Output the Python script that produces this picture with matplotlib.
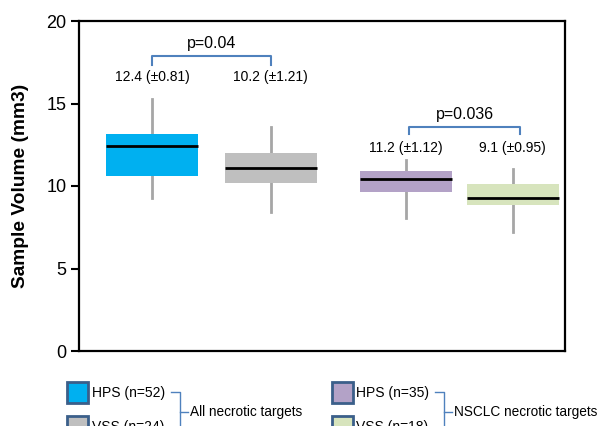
import matplotlib
matplotlib.use("Agg")
import matplotlib.pyplot as plt
from matplotlib.patches import Rectangle
from matplotlib.lines import Line2D

plt.rcParams['font.family'] = ['Liberation Sans', 'DejaVu Sans']

# data
groups = ["HPS (n=52)", "VSS (n=24)", "HPS (n=35)", "VSS (n=18)"]
medians = [12.4, 11.1, 10.45, 9.25]
q1 = [10.6, 10.17, 9.63, 8.84]
q3 = [13.15, 11.98, 10.88, 10.15]
whis_lo = [9.3, 8.45, 8.05, 7.2]
whis_hi = [15.3, 13.6, 11.55, 11.05]
mean_labels = ["12.4 (±0.81)", "10.2 (±1.21)", "11.2 (±1.12)", "9.1 (±0.95)"]
p_values = ["p=0.04", "p=0.036"]
group_names = ["All necrotic targets", "NSCLC necrotic targets"]
colors = ["#00b0f0", "#bfbfbf", "#b3a2c7", "#d7e4bd"]

# layout
positions = [0.6, 1.578, 2.69, 3.57]
box_width = 0.757
W, H = 597, 426

fig = plt.figure(figsize=(W / 100, H / 100), dpi=100)
ax = fig.add_axes([79 / W, 75 / H, 486 / W, 330 / H])

stats = []
for i in range(len(groups)):
    stats.append({"med": medians[i], "q1": q1[i], "q3": q3[i],
                  "whislo": whis_lo[i], "whishi": whis_hi[i], "label": groups[i]})

bp = ax.bxp(stats, positions=positions, widths=box_width, patch_artist=True,
            showcaps=False, showfliers=False,
            boxprops=dict(linewidth=0),
            whiskerprops=dict(color="#a6a6a6", linewidth=2),
            medianprops=dict(color="black", linewidth=2))
for patch, c in zip(bp["boxes"], colors):
    patch.set_facecolor(c)
    patch.set_edgecolor(c)
for w in bp["whiskers"]:
    w.set_zorder(0.5)

# mean labels
label_y = [16.6, 16.6, 12.3, 12.3]
for x, y, t in zip(positions, label_y, mean_labels):
    ax.text(x, y, t, ha="center", va="center", fontsize=10)

# p-value brackets
br_color = "#4f81bd"
pairs = [(0, 1, 17.9, 17.35), (2, 3, 13.6, 13.15)]
for (a, b, top, low), p in zip(pairs, p_values):
    xa, xb = positions[a], positions[b]
    if a == 2:
        xa, xb = xa + 0.03, xb + 0.06
    ax.plot([xa, xa, xb, xb], [low, top, top, low], color=br_color, linewidth=1.5)
    ax.text((xa + xb) / 2, top + 0.75, p, ha="center", va="center", fontsize=11.5)

ax.set_xlim(0, 4)
ax.set_ylim(0, 20)
ax.set_yticks([0, 5, 10, 15, 20])
ax.tick_params(axis="y", labelsize=13, length=6, width=1.5, pad=3, direction="out")
ax.set_xticks([])
for s in ax.spines.values():
    s.set_linewidth(1.6)
ax.set_ylabel("Sample Volume (mm3)", fontsize=13.8, fontweight="bold")
ax.yaxis.set_label_coords(-(79 - 29) / 486, 0.5)


# legend drawn in pixel coords of the figure
def px(x, y):
    return x / W, 1 - y / H


legend_cols = [(67, 92, 180, 0), (332, 356, 444, 2)]
for (sx, tx, bx, start), gname in zip(legend_cols, group_names):
    for k in range(2):
        top = 382 + k * 34
        x0, y0 = px(sx, top + 21)
        fig.patches.append(Rectangle((x0, y0), 21 / W, 21 / H, transform=fig.transFigure,
                                     facecolor=colors[start + k], edgecolor="#3b5f8a",
                                     linewidth=2))
        fig.text(*px(tx, top + 11), groups[start + k], ha="left", va="center", fontsize=10)
    # right brace
    line_pts = [(bx - 9, 392), (bx, 392), (bx, 440)]
    fig.lines.append(Line2D([px(*p)[0] for p in line_pts], [px(*p)[1] for p in line_pts],
                            transform=fig.transFigure, color=br_color, linewidth=1))
    tick = [(bx, 412), (bx + 8, 412)]
    fig.lines.append(Line2D([px(*p)[0] for p in tick], [px(*p)[1] for p in tick],
                            transform=fig.transFigure, color=br_color, linewidth=1))
    fig.text(*px(bx + 10, 412), gname, ha="left", va="center", fontsize=9.8)

plt.savefig("out.png", dpi=100)
